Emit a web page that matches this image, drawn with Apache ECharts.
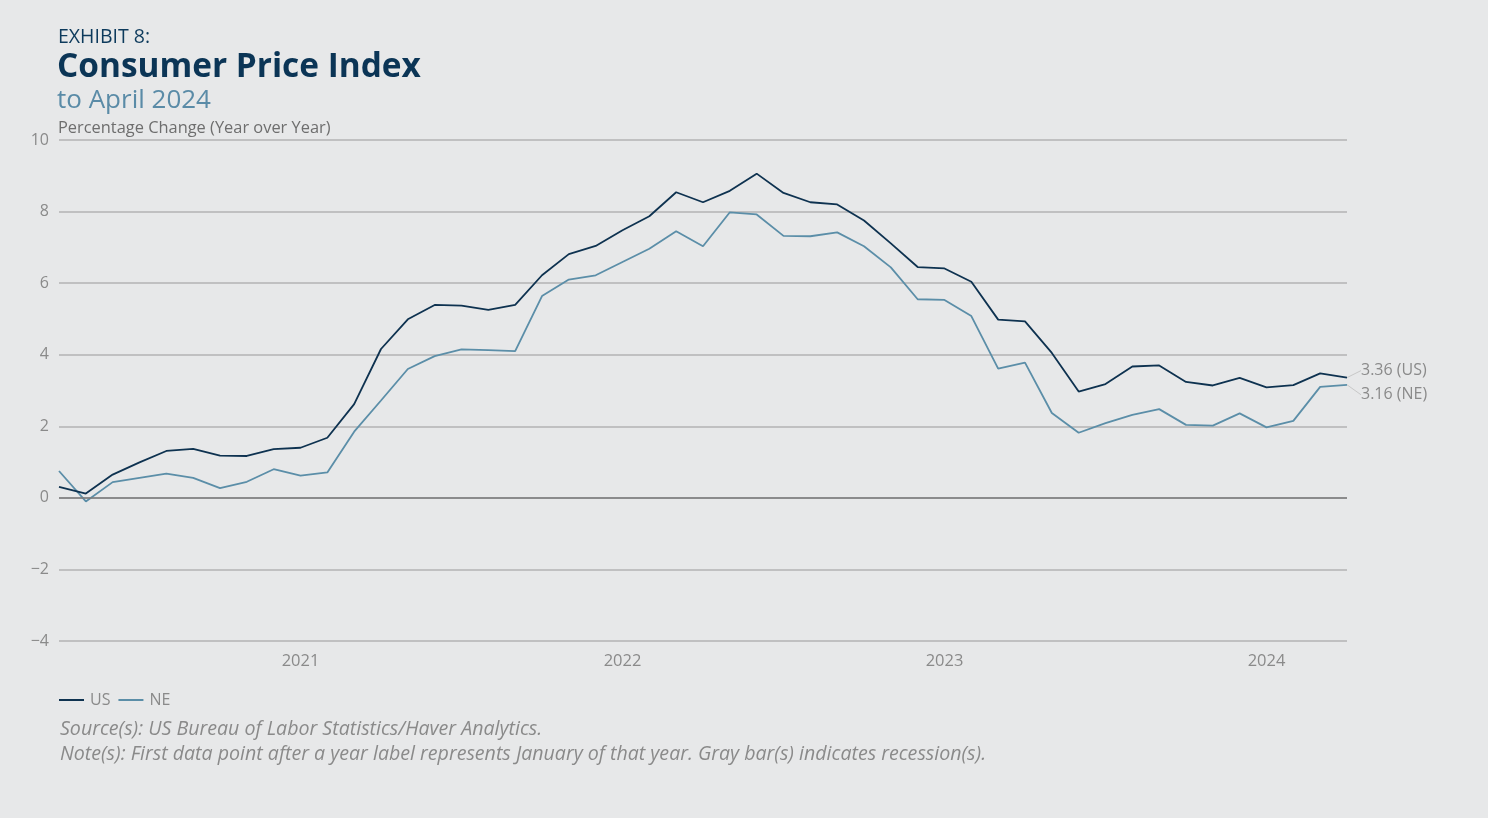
<!DOCTYPE html>
<html>
<head>
<meta charset="utf-8">
<script src="https://cdn.jsdelivr.net/npm/echarts@6/dist/echarts.min.js"></script>
<style>
html,body{margin:0;padding:0;background:#e7e8e9;}
#chart{width:1488px;height:818px;}
</style>
</head>
<body>
<div id="chart"></div>
<script>
var months = [
 '2020-04','2020-05','2020-06','2020-07','2020-08','2020-09','2020-10','2020-11','2020-12',
 '2021-01','2021-02','2021-03','2021-04','2021-05','2021-06','2021-07','2021-08','2021-09','2021-10','2021-11','2021-12',
 '2022-01','2022-02','2022-03','2022-04','2022-05','2022-06','2022-07','2022-08','2022-09','2022-10','2022-11','2022-12',
 '2023-01','2023-02','2023-03','2023-04','2023-05','2023-06','2023-07','2023-08','2023-09','2023-10','2023-11','2023-12',
 '2024-01','2024-02','2024-03','2024-04'
];
var usValues = [0.31,0.12,0.65,0.99,1.31,1.37,1.18,1.17,1.36,
 1.40,1.68,2.62,4.16,4.99,5.39,5.37,5.25,5.39,6.22,6.81,7.04,
 7.48,7.87,8.54,8.26,8.58,9.06,8.52,8.26,8.20,7.75,7.11,6.45,
 6.41,6.04,4.98,4.93,4.05,2.97,3.18,3.67,3.70,3.24,3.14,3.35,
 3.09,3.15,3.48,3.36];
var neValues = [0.75,-0.10,0.44,0.56,0.68,0.56,0.27,0.45,0.80,
 0.62,0.71,1.85,2.72,3.60,3.96,4.15,4.13,4.10,5.64,6.10,6.22,
 6.59,6.96,7.45,7.03,7.98,7.92,7.32,7.31,7.42,7.03,6.44,5.55,
 5.53,5.08,3.61,3.78,2.37,1.82,2.09,2.32,2.48,2.04,2.02,2.36,
 1.97,2.15,3.10,3.16];
var yTicks = [-4,-2,0,2,4,6,8,10];
var endLabels = ['3.36 (US)','3.16 (NE)'];

var FONT = '"Open Sans", "Noto Sans", sans-serif';
var usColor = '#0e3250';
var neColor = '#5b8ea8';

function withEndLabel(vals, text) {
  return vals.map(function (v, i) {
    if (i !== vals.length - 1) return v;
    return {
      value: v,
      label: {show: true, formatter: text, position: 'right', distance: 0,
              color: '#8a8a8a', fontSize: 16, fontFamily: FONT},
      labelLine: {show: true, lineStyle: {color: '#c8c8c8', width: 1}}
    };
  });
}

var chart = echarts.init(document.getElementById('chart'));
chart.setOption({
  backgroundColor: '#e7e8e9',
  animation: false,
  title: [
    {text: 'EXHIBIT 8:', left: 58, top: 27, padding: 0, textStyle: {fontFamily: FONT, fontSize: 19.5, fontWeight: 'normal', color: '#0d3a5c'}},
    {text: 'Consumer Price Index', left: 57, top: 51, padding: 0, textStyle: {fontFamily: FONT, fontSize: 33.4, fontWeight: 'bold', color: '#0b3556'}},
    {text: 'to April 2024', left: 57, top: 88, padding: 0, textStyle: {fontFamily: FONT, fontSize: 26, fontWeight: 'normal', color: '#5a8ba7'}},
    {text: 'Percentage Change (Year over Year)', left: 58, top: 120, padding: 0, textStyle: {fontFamily: FONT, fontSize: 16.4, fontWeight: 'normal', color: '#6e6e6e'}},
    {text: 'Source(s): US Bureau of Labor Statistics/Haver Analytics.', left: 60, top: 719, padding: 0, textStyle: {fontFamily: FONT, fontSize: 19.6, fontStyle: 'italic', fontWeight: 'normal', color: '#8a8a8a'}},
    {text: 'Note(s): First data point after a year label represents January of that year. Gray bar(s) indicates recession(s).', left: 60, top: 744, padding: 0, textStyle: {fontFamily: FONT, fontSize: 19.6, fontStyle: 'italic', fontWeight: 'normal', color: '#8a8a8a'}}
  ],
  legend: {
    left: 59, top: 692, padding: 0,
    icon: 'rect', itemWidth: 25, itemHeight: 2, itemGap: 8,
    textStyle: {fontFamily: FONT, fontSize: 16, color: '#8a8a8a', padding: [0,0,0,1]},
    data: ['US', 'NE']
  },
  grid: {left: 59, right: 141, top: 140, bottom: 177, containLabel: false},
  xAxis: {
    type: 'category',
    data: months,
    boundaryGap: false,
    axisLine: {show: false},
    axisTick: {show: false},
    axisLabel: {
      interval: function (i, v) { return v.slice(5) === '01'; },
      formatter: function (v) { return v.slice(0, 4); },
      color: '#8a8a8a', fontSize: 16.5, fontFamily: FONT, margin: 12
    },
    splitLine: {show: false}
  },
  yAxis: {
    type: 'value',
    min: yTicks[0], max: yTicks[yTicks.length - 1], interval: 2,
    axisLine: {show: false},
    axisTick: {show: false},
    axisLabel: {
      formatter: function (v) { return String(v).replace('-', '\u2212'); },
      color: '#8a8a8a', fontSize: 16, fontFamily: FONT, margin: 10
    },
    splitLine: {lineStyle: {color: '#b3b3b3', width: 1.5}}
  },
  series: [
    {
      name: 'US', type: 'line', data: withEndLabel(usValues, endLabels[0]),
      symbol: 'circle', symbolSize: 0, showSymbol: true,
      lineStyle: {color: usColor, width: 1.8}, itemStyle: {color: usColor},
      labelLayout: {dx: 14, dy: -7},
      markLine: {
        silent: true, symbol: 'none', label: {show: false},
        lineStyle: {color: '#7a7a7a', width: 1.6, type: 'solid'},
        data: [{yAxis: 0}]
      },
      z: 3
    },
    {
      name: 'NE', type: 'line', data: withEndLabel(neValues, endLabels[1]),
      symbol: 'circle', symbolSize: 0, showSymbol: true,
      lineStyle: {color: neColor, width: 1.8}, itemStyle: {color: neColor},
      labelLayout: {dx: 14, dy: 10},
      z: 2
    }
  ]
});
</script>
</body>
</html>
